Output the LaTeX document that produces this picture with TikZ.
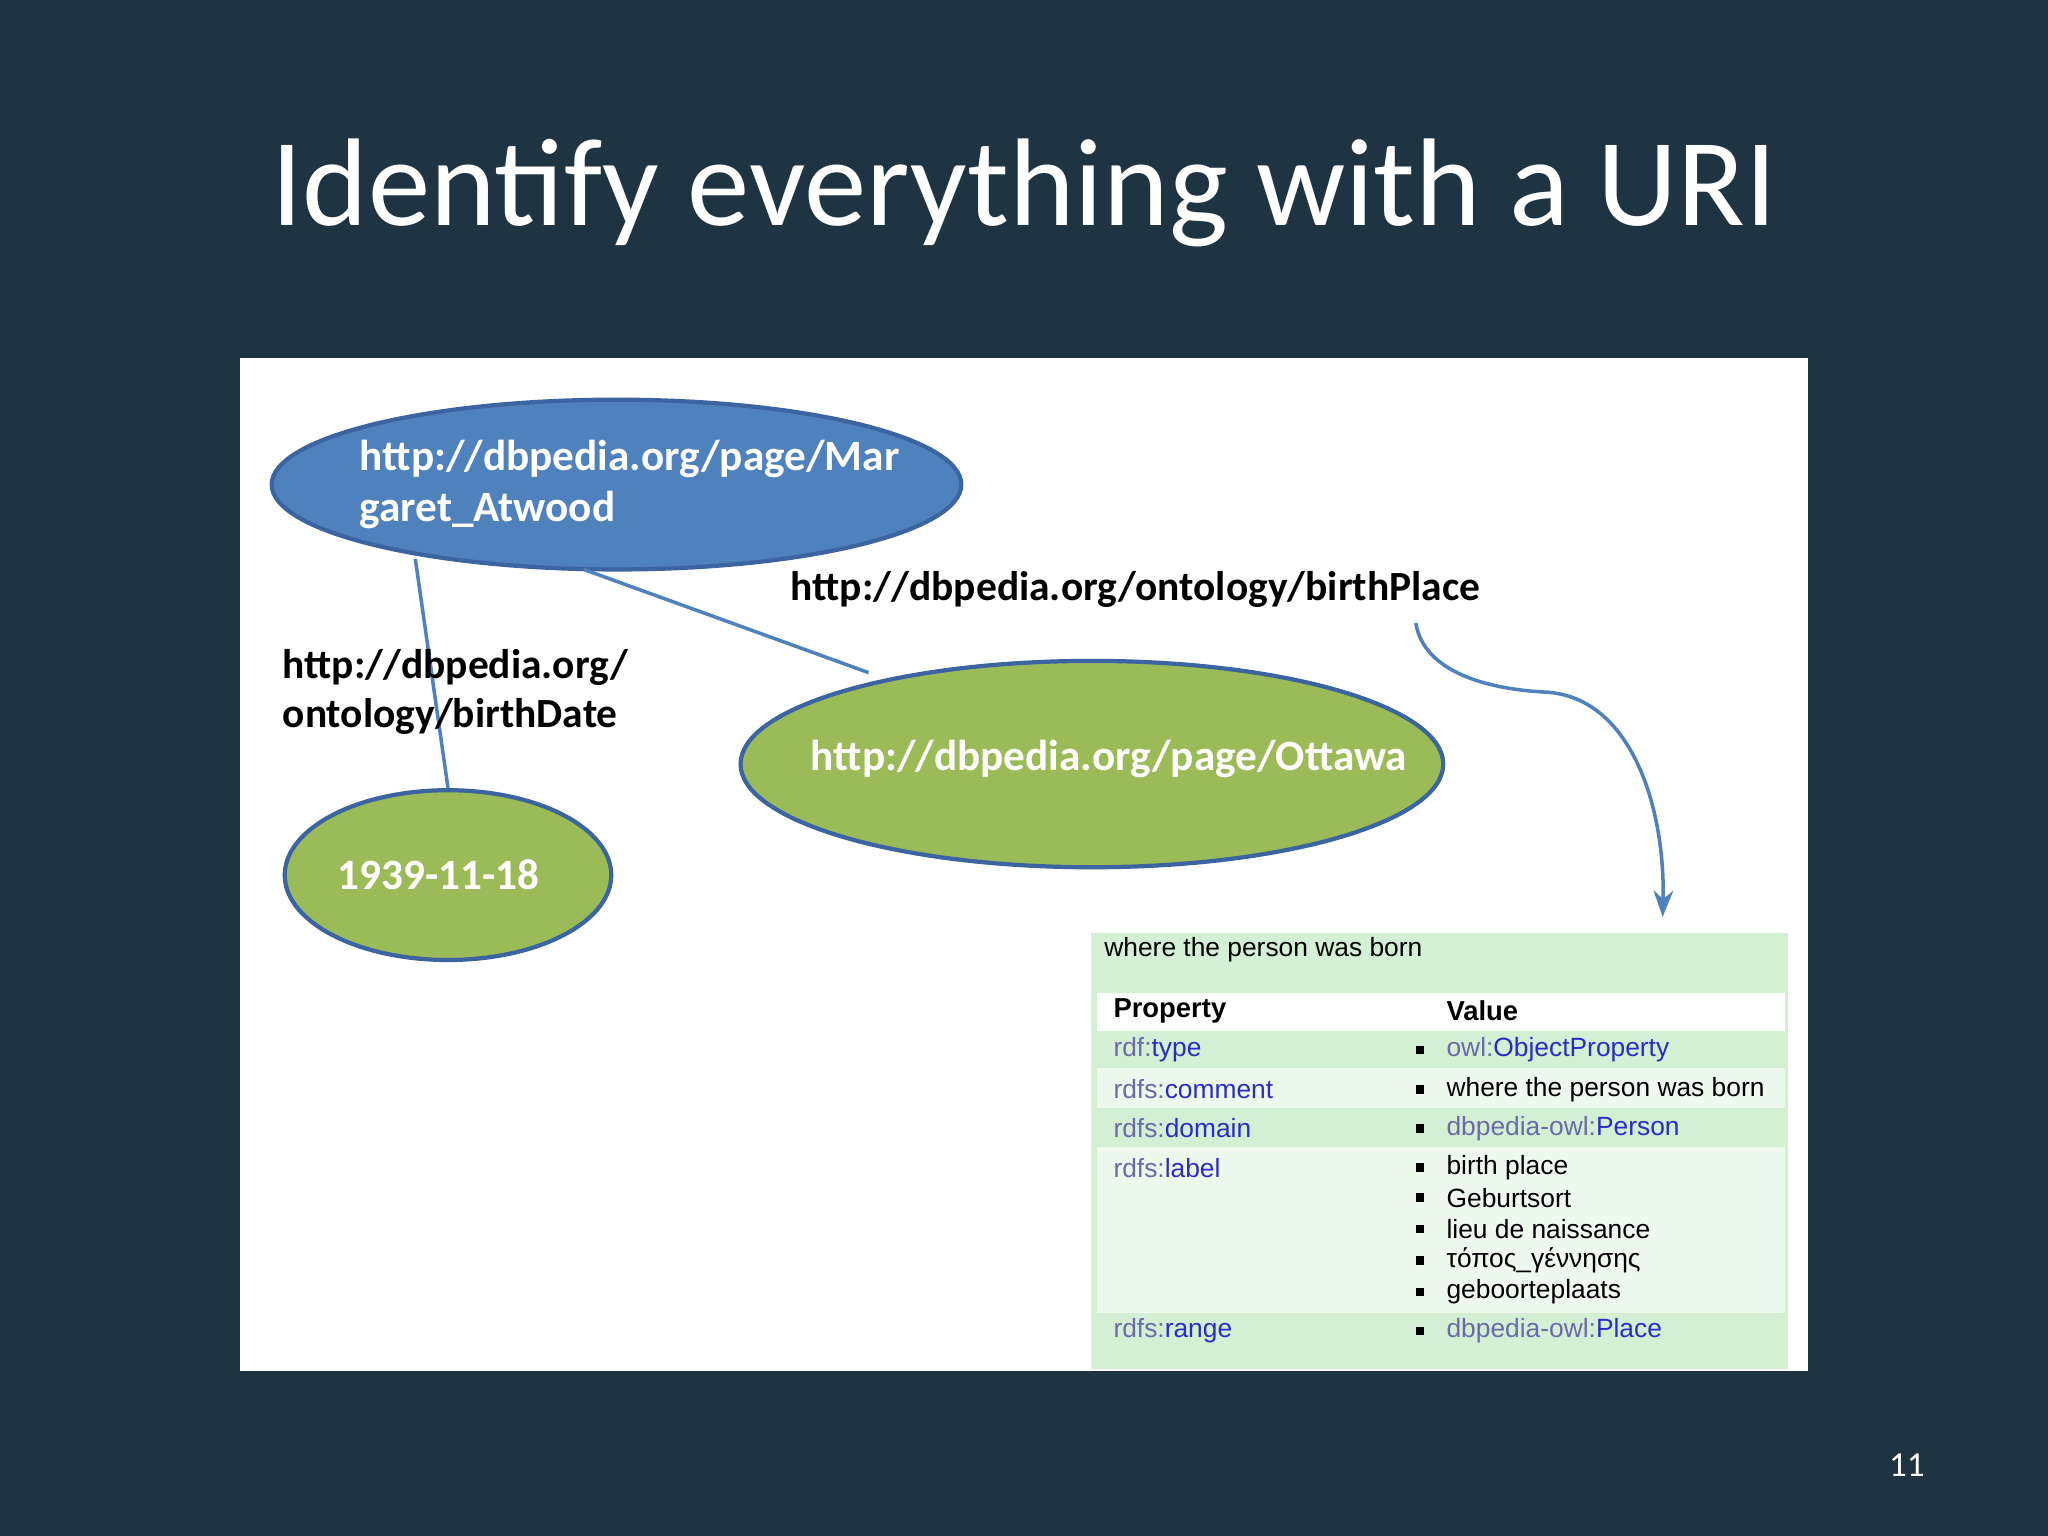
\documentclass[tikz,border=0pt]{standalone}
\usepackage{fontspec}
\setmainfont{Carlito}
\newfontfamily\tabfont{Liberation Sans}
\usetikzlibrary{arrows.meta}
\usetikzlibrary{positioning}
\usetikzlibrary{shapes.geometric}
\definecolor{slide}{HTML}{1F3442}
\definecolor{blueell}{HTML}{4F81BD}
\definecolor{blueedge}{HTML}{3B64A0}
\definecolor{greenell}{HTML}{9BBB59}
\definecolor{rowdark}{HTML}{D4F0D4}
\definecolor{rowlight}{HTML}{EEF9EE}
\definecolor{linkblue}{HTML}{2B2BC8}
\definecolor{prefix}{HTML}{6A6AA8}
\begin{document}
\begin{tikzpicture}[
    x=0.01306cm, y=-0.01306cm,
    >=Stealth,
    uri/.style={ellipse, draw=blueedge, line width=1.2pt, inner sep=0pt},
    uritext/.style={text=white, font=\fontsize{12.3}{14.5}\selectfont\bfseries, align=left},
    prop/.style={font=\fontsize{11.8}{14}\selectfont\bfseries, align=left, text=black},
    link/.style={draw=blueell, line width=1pt},
    cell/.style={font=\tabfont\fontsize{7.5}{9}\selectfont, anchor=west, inner sep=0pt},
    bul/.style={fill=black, minimum size=2.4pt, inner sep=0pt}
]
\useasboundingbox (0,0) rectangle (1568,1176);
\fill[slide] (0,0) rectangle (1568,1176);
\node[text=white, font=\fontsize{35.5}{38}\selectfont] (title) at (784,148) {Identify everything with a URI};
\fill[white] (184,274) rectangle (1384,1050);

% Ellipses
\node[uri, fill=blueell, minimum width={528*0.01306cm}, minimum height={130*0.01306cm}] (atwood) at (472,371) {};
\node[uritext, anchor=west] (atwoodtxt) at (266,371) {http://dbpedia.org/page/Mar\\garet\_Atwood};
\node[uri, fill=greenell, minimum width={538*0.01306cm}, minimum height={158*0.01306cm}] (ottawa) at (836,585) {};
\node[uritext] (ottawatxt) at (849,581) {http://dbpedia.org/page/Ottawa};
\node[uri, fill=greenell, minimum width={250*0.01306cm}, minimum height={130*0.01306cm}] (date) at (343,670) {};
\node[uritext] (datetxt) at (336,670) {1939-11-18};

% Edges
\coordinate (a1) at (318,428);
\coordinate (a2) at (447,436);
\coordinate (o1) at (665,515);
\draw[link] (a1) -- (date.north);
\draw[link] (a2) -- (o1);

% Labels
\node[prop, anchor=west] (bplace) at (596,451) {http://dbpedia.org/ontology/birthPlace};
\node[prop, anchor=west] (bdate) at (207,530) {http://dbpedia.org/\\ontology/birthDate};

% Table
\fill[rowdark] (835,714) rectangle (1369,1048);
\fill[white] (840,760) rectangle (1367,789);
\fill[rowdark] (840,789) rectangle (1367,818);
\fill[rowlight] (840,818) rectangle (1367,848);
\fill[rowdark] (840,848) rectangle (1367,878);
\fill[rowlight] (840,878) rectangle (1367,1005);
\fill[rowdark] (840,1005) rectangle (1367,1035);
\node[cell] (desc) at (845,727) {where the person was born};
\node[cell, font=\tabfont\fontsize{7.8}{9}\selectfont\bfseries] (hprop) at (852,774) {Property};
\node[cell, font=\tabfont\fontsize{7.8}{9}\selectfont\bfseries] (hval) at (1107,774) {Value};
\node[cell] (ptype) at (852,804) {\textcolor{prefix}{rdf:}\textcolor{linkblue}{type}};
\node[cell] (pcomm) at (852,834) {\textcolor{prefix}{rdfs:}\textcolor{linkblue}{comment}};
\node[cell] (pdom) at (852,864) {\textcolor{prefix}{rdfs:}\textcolor{linkblue}{domain}};
\node[cell] (plab) at (852,894) {\textcolor{prefix}{rdfs:}\textcolor{linkblue}{label}};
\node[cell] (pran) at (852,1019) {\textcolor{prefix}{rdfs:}\textcolor{linkblue}{range}};
\foreach \yy/\txt in {804/{\textcolor{prefix}{owl:}\textcolor{linkblue}{ObjectProperty}},
    834/{where the person was born},
    864/{\textcolor{prefix}{dbpedia-owl:}\textcolor{linkblue}{Person}},
    894/{birth place}, 917/{Geburtsort}, 941/{lieu de naissance},
    965/{τόπος\_γέννησης}, 989/{geboorteplaats},
    1019/{\textcolor{prefix}{dbpedia-owl:}\textcolor{linkblue}{Place}}}{
  \node[bul] (b\yy) at (1087,\yy) {};
  \node[cell] (v\yy) at (1107,\yy) {\txt};
}

% Curved arrow
\coordinate (cstart) at (1084,477);
\coordinate (ctip) at (1273,702);
\draw[link, ->] (cstart) .. controls (1090,515) and (1140,528) .. (1185,530)
  .. controls (1250,535) and (1275,620) .. (ctip);

\node[text=white, font=\fontsize{10}{12}\selectfont] (pagenum) at (1460,1122) {11};
\end{tikzpicture}
\end{document}
